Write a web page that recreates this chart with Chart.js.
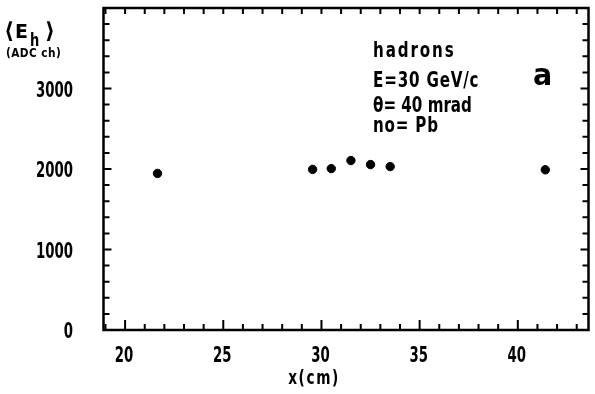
<!DOCTYPE html>
<html>
<head>
<meta charset="utf-8">
<script src="https://cdn.jsdelivr.net/npm/chart.js@4.4.1/dist/chart.umd.min.js"></script>
<style>
  html, body { margin: 0; padding: 0; background: #fff; }
  #wrap { width: 595px; height: 394px; }
</style>
</head>
<body>
<div id="wrap"><canvas id="ehChart"></canvas></div>
<script>
// Mean hadron signal <E_h> vs. beam impact position x
const xPos = [21.65, 29.55, 30.5, 31.5, 32.5, 33.5, 41.4];
const meanEh = [1945, 1995, 2005, 2105, 2055, 2030, 1990];
const xTickLabels = [20, 25, 30, 35, 40];
const yTickLabels = [0, 1000, 2000, 3000];
const infoLines = ['hadrons', 'E=30 GeV/c', 'θ= 40 mrad', 'no= Pb'];

const FONT = "'DejaVu Sans Condensed', 'DejaVu Sans', sans-serif";

// narrow text: squeeze horizontally around the anchor point
function txt(ctx, s, x, y, opts) {
    const o = Object.assign({ size: 20, weight: 'bold', align: 'left', sx: 1, spacing: 0, family: FONT }, opts);
    ctx.save();
    ctx.translate(x, y);
    ctx.scale(o.sx, 1);
    ctx.font = o.weight + ' ' + o.size + 'px ' + o.family;
    ctx.letterSpacing = o.spacing + 'px';
    ctx.textAlign = o.align;
    ctx.textBaseline = 'alphabetic';
    ctx.fillStyle = '#000';
    ctx.fillText(s, 0, 0);
    ctx.restore();
}

const framePlugin = {
    id: 'frame',
    afterDraw(chart) {
        const ctx = chart.ctx;
        const a = chart.chartArea;
        const xs = chart.scales.x;
        const ys = chart.scales.y;
        ctx.save();
        ctx.strokeStyle = '#000';
        ctx.lineWidth = 2.5;
        ctx.strokeRect(a.left, a.top, a.right - a.left, a.bottom - a.top);

        // inward ticks on all four sides
        ctx.lineWidth = 2;
        ctx.beginPath();
        for (let v = 19; v <= 43; v++) {
            const px = xs.getPixelForValue(v);
            const len = v % 5 === 0 ? 10 : 6;
            ctx.moveTo(px, a.bottom); ctx.lineTo(px, a.bottom - len);
            ctx.moveTo(px, a.top); ctx.lineTo(px, a.top + 6);
        }
        for (let v = 200; v < 4000; v += 200) {
            const py = ys.getPixelForValue(v);
            const len = v % 1000 === 0 ? 8 : 6;
            ctx.moveTo(a.left, py); ctx.lineTo(a.left + len, py);
            ctx.moveTo(a.right, py); ctx.lineTo(a.right - len, py);
        }
        ctx.stroke();
        ctx.restore();

        // tick labels
        xs.ticks.forEach(t => {
            txt(ctx, String(t.value), xs.getPixelForValue(t.value) - 1, a.bottom + 32, { align: 'center', sx: 0.72, size: 20.5 });
        });
        ys.ticks.forEach(t => {
            txt(ctx, String(t.value), 73, ys.getPixelForValue(t.value) + 8, { align: 'right', sx: 0.72, size: 20.5 });
        });

        // axis titles
        txt(ctx, 'x(cm)', 314, 384, { align: 'center', sx: 0.8, size: 19, spacing: 2 });
        txt(ctx, '⟨', 4, 38, { size: 22, family: "'DejaVu Sans'" });
        txt(ctx, 'E', 15, 38, { size: 19, family: "'DejaVu Sans'" });
        txt(ctx, 'h', 30, 46, { size: 17, sx: 0.85 });
        txt(ctx, '⟩', 45, 38, { size: 22, family: "'DejaVu Sans'" });
        txt(ctx, '(ADC ch)', 6, 57, { size: 13, sx: 0.9, spacing: 0.5 });

        // run conditions
        const ly = [57, 87, 112, 132];
        const gap = [2.3, 1, 0, 1];
        infoLines.forEach((s, i) => txt(ctx, s, 373, ly[i], { size: 20.5, sx: 0.82, spacing: gap[i] }));
        txt(ctx, 'a', 533, 85, { size: 30, family: "'DejaVu Sans'", sx: 0.95 });
    }
};

new Chart(document.getElementById('ehChart'), {
    type: 'scatter',
    data: {
        datasets: [{
            data: xPos.map((x, i) => ({ x: x, y: meanEh[i] })),
            backgroundColor: '#000',
            borderColor: '#000',
            pointRadius: 4.2,
            pointHoverRadius: 4.2
        }]
    },
    options: {
        responsive: true,
        maintainAspectRatio: false,
        animation: false,
        layout: { padding: { top: 8, right: 6.5, left: 0, bottom: 0 } },
        plugins: { legend: { display: false }, tooltip: { enabled: false } },
        scales: {
            x: {
                type: 'linear',
                min: 18.9,
                max: 43.6,
                afterBuildTicks: s => { s.ticks = xTickLabels.map(v => ({ value: v })); },
                afterFit: s => { s.height = 64; s.paddingLeft = 0; s.paddingRight = 0; },
                grid: { display: false, drawTicks: false },
                border: { display: false },
                ticks: { display: false }
            },
            y: {
                min: 0,
                max: 4000,
                afterBuildTicks: s => { s.ticks = yTickLabels.map(v => ({ value: v })); },
                afterFit: s => { s.width = 103.5; s.paddingTop = 0; s.paddingBottom = 0; },
                grid: { display: false, drawTicks: false },
                border: { display: false },
                ticks: { display: false }
            }
        }
    },
    plugins: [framePlugin]
});
</script>
</body>
</html>
